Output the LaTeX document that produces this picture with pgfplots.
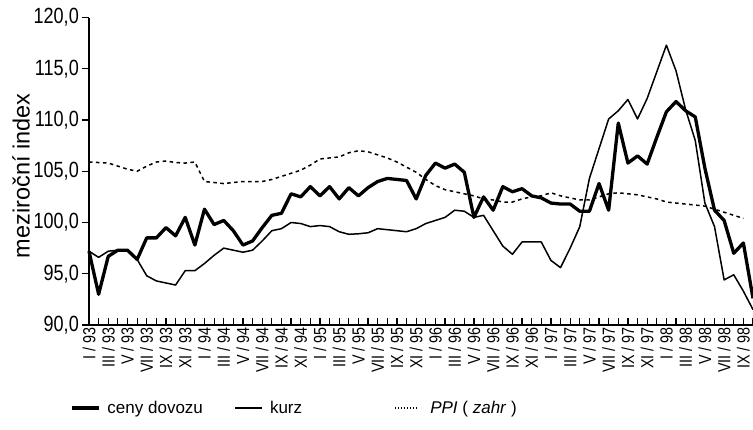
\documentclass[border=0pt]{standalone}
\usepackage{fontspec}
\setmainfont{Liberation Sans}
\newfontfamily\condfont{Liberation Sans}[FakeStretch=0.82]
\usepackage{pgfplots}
\pgfplotsset{compat=1.18}
\usepackage{pgfplotstable}
\usetikzlibrary{calc}

\pgfplotstableread{
m dov kurz
0 97.2 97.2
1 93.0 96.6
2 96.7 97.2
3 97.3 97.3
4 97.3 97.2
5 96.4 96.4
6 98.5 94.8
7 98.5 94.3
8 99.5 94.1
9 98.7 93.9
10 100.5 95.3
11 97.8 95.3
12 101.3 96.0
13 99.8 96.8
14 100.2 97.5
15 99.2 97.3
16 97.8 97.1
17 98.2 97.3
18 99.5 98.2
19 100.7 99.2
20 100.9 99.4
21 102.8 100.0
22 102.5 99.9
23 103.5 99.6
24 102.6 99.7
25 103.5 99.6
26 102.3 99.1
27 103.4 98.85
28 102.6 98.9
29 103.4 99.0
30 104.0 99.4
31 104.3 99.3
32 104.2 99.2
33 104.1 99.1
34 102.3 99.4
35 104.6 99.9
36 105.8 100.2
37 105.3 100.5
38 105.7 101.2
39 104.9 101.1
40 100.5 100.5
41 102.5 100.7
42 101.2 99.2
43 103.5 97.7
44 103.0 96.9
45 103.3 98.1
46 102.6 98.1
47 102.4 98.1
48 101.9 96.3
49 101.8 95.6
50 101.8 97.5
51 101.1 99.6
52 101.1 104.3
53 103.8 107.2
54 101.2 110.1
55 109.7 110.9
56 105.8 112.0
57 106.5 110.1
58 105.7 112.1
59 108.3 114.7
60 110.8 117.3
61 111.8 114.8
62 110.9 111.0
63 110.3 108.0
64 105.3 101.9
65 101.2 99.6
66 100.2 94.4
67 97.0 94.9
68 98.0 93.3
69 92.6 91.5
}\dataA

\pgfplotstableread{
m ppi
0 105.9
1 105.85
2 105.8
3 105.5
4 105.2
5 105.0
6 105.5
7 105.9
8 106.0
9 105.85
10 105.8
11 105.9
12 104.0
13 103.9
14 103.8
15 103.9
16 104.0
17 104.0
18 104.0
19 104.2
20 104.5
21 104.8
22 105.1
23 105.6
24 106.2
25 106.3
26 106.4
27 106.8
28 107.0
29 106.9
30 106.6
31 106.3
32 105.9
33 105.4
34 104.9
35 104.2
36 103.6
37 103.2
38 103.0
39 102.8
40 102.6
41 102.3
42 102.2
43 102.0
44 102.0
45 102.3
46 102.5
47 102.6
48 102.9
49 102.6
50 102.4
51 102.2
52 102.2
53 102.5
54 102.8
55 102.9
56 102.8
57 102.7
58 102.5
59 102.3
60 102.0
61 101.9
62 101.8
63 101.7
64 101.6
65 101.3
66 101.0
67 100.7
68 100.4
}\dataB

\begin{document}
\begin{tikzpicture}
\begin{axis}[
  name=ax,
  scale only axis,
  width=664pt, height=307.5pt,
  xmin=0, xmax=69, ymin=90, ymax=120,
  axis lines=left,
  axis line style={-, line width=1.8pt},
  clip=false,
  ytick={90,95,...,120},
  xtick={0,2,...,68},
  minor xtick={1,3,...,69},
  xticklabels={I / 93, III / 93, V / 93, VII / 93, IX / 93, XI / 93,
               I / 94, III / 94, V / 94, VII / 94, IX / 94, XI / 94,
               I / 95, III / 95, V / 95, VII / 95, IX / 95, XI / 95,
               I / 96, III / 96, V / 96, VII / 96, IX / 96, XI / 96,
               I / 97, III / 97, V / 97, VII / 97, IX / 97, XI / 97,
               I / 98, III / 98, V / 98, VII / 98, IX / 98},
  xtick align=inside,
  ytick align=outside,
  tick style={black, line width=1.2pt},
  major tick length=7pt, minor tick length=7pt,
  x tick label style={rotate=90, anchor=east, font=\condfont\fontsize{17.5}{17.5}\selectfont, inner sep=2pt},
  y tick label style={font=\condfont\fontsize{22}{22}\selectfont, inner sep=3pt},
  /pgf/number format/assume math mode=true,
  yticklabel={\pgfmathprintnumber[fixed,fixed zerofill,precision=1,use comma]{\tick}},
  ylabel={meziroční index},
  ylabel style={at={(axis description cs:-0.1024,0.485)}, anchor=center, font=\fontsize{23.5}{23.5}\selectfont},
  legend style={at={(axis description cs:0,0)}, anchor=west, xshift=-22pt, yshift=-83pt,
    draw=none, fill=none, font=\fontsize{17}{17}\selectfont,
    nodes={inner sep=2pt}},
  legend columns=3,
  legend cell align=left,
]
\addplot[black, line width=3.3pt, line join=round,
  legend image code/.code={\draw[black, line width=3.3pt] (0pt,0pt) -- (27pt,0pt);}]
  table[x=m, y=dov] {\dataA};
\addlegendentry{\makebox[130pt][l]{\hspace{5pt}ceny dovozu}}
\addplot[black, line width=1.5pt, line join=round,
  legend image code/.code={\draw[black, line width=1.5pt] (0pt,0pt) -- (27pt,0pt);}]
  table[x=m, y=kurz] {\dataA};
\addlegendentry{\makebox[127pt][l]{\hspace{5pt}kurz}}
\addplot[black, line width=1.5pt, dash pattern=on 3.5pt off 3.5pt,
  legend image code/.code={\draw[black, line width=1.3pt, dash pattern=on 1.5pt off 1.5pt] (0pt,0pt) -- (24pt,0pt);}]
  table[x=m, y=ppi] {\dataB};
\addlegendentry{\hspace{9pt}\textit{PPI} ( \textit{zahr} )}
\end{axis}
\pgfresetboundingbox
\path ($(ax.south west)+(-89pt,-104pt)$) rectangle ($(ax.north east)+(0pt,17.5pt)$);
\end{tikzpicture}
\end{document}
